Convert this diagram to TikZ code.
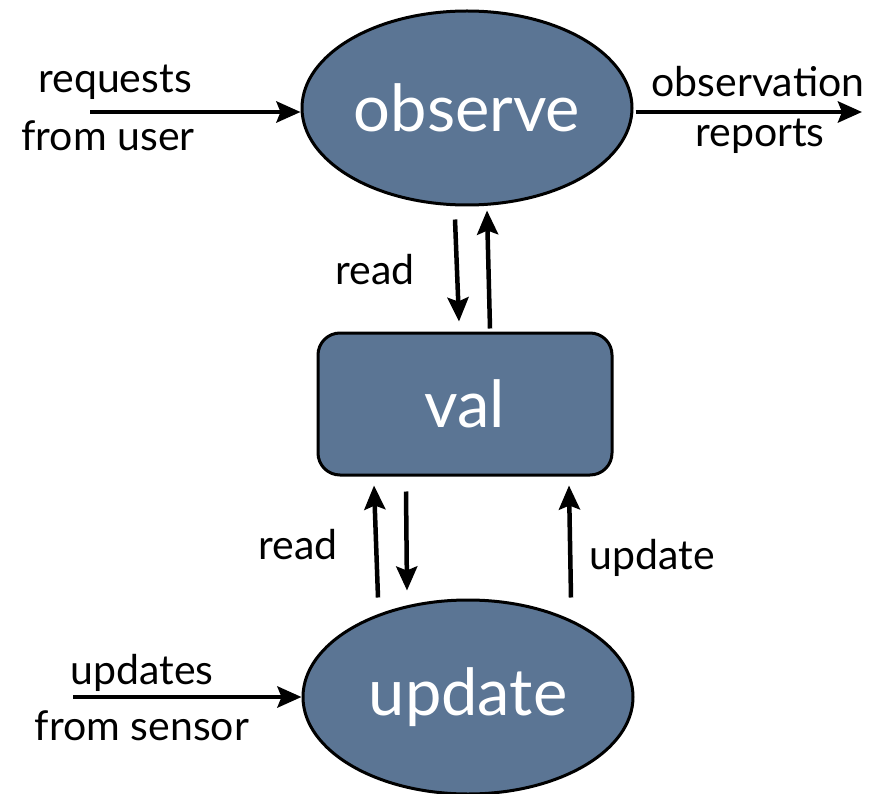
\documentclass[tikz,border=0pt]{standalone}
\usepackage{fontspec}
\setmainfont{Lato}
\usetikzlibrary{shapes.geometric,arrows.meta,calc}
\definecolor{nodeblue}{RGB}{91,117,148}
\begin{document}
\begin{tikzpicture}[x=1pt,y=-1pt,
  proc/.style={ellipse,draw=black,line width=3pt,fill=nodeblue,
    minimum width=330pt,minimum height=194pt,inner sep=0pt,
    text=white,font=\fontsize{65}{68}\selectfont},
  store/.style={rectangle,rounded corners=22pt,draw=black,line width=3pt,
    fill=nodeblue,minimum width=294pt,minimum height=142pt,inner sep=0pt,
    text=white,font=\fontsize{65}{68}\selectfont},
  flow/.style={line width=4.5pt,-{Stealth[length=24pt,width=21pt,inset=4pt]}},
  lbl/.style={font=\fontsize{41}{44}\selectfont,align=center,inner sep=0pt}]
  \useasboundingbox (0,0) rectangle (875,794);

  % processes and the shared value
  \node[proc]  (obs) at (467,108) {observe};
  \node[store] (val) at (465,404) {val};
  \node[proc]  (upd) at (468,697) {update};

  % free ends of the outside flows
  \coordinate (reqin)  at (90,112);
  \coordinate (obsout) at (862,112);
  \coordinate (updin)  at (73,697);

  % outside inputs and outputs
  \draw[flow] (reqin) -- (obs.west |- reqin);
  \draw[flow] (obs.east |- obsout) ++(2,0) -- (obsout);
  \draw[flow] (updin) -- (upd.west);

  \node[lbl] at (115,82)  {requests};
  \node[lbl] at (108,136) {from user};
  \node[lbl] at (758,82)  {observation};
  \node[lbl] at (760,136) {reports};
  \node[lbl] at (142,673) {updates};
  \node[lbl] at (142,726) {from sensor};

  % observe <-> val
  \draw[flow] ($(obs.south)+(-12,13)$) -- ($(val.north)+(-6,-10)$);
  \draw[flow] ($(val.north)+(25,-3)$) -- ($(obs.south)+(20,4)$);
  \node[lbl] at (375,270) {read};

  % update <-> val
  \draw[flow] ($(upd.north)+(-90,-1)$) -- ($(val.south)+(-91,9)$);
  \draw[flow] ($(val.south)+(-59,15)$) -- ($(upd.north)+(-61,-8)$);
  \draw[flow] ($(upd.north)+(103,-1)$) -- ($(val.south)+(104,9)$);
  \node[lbl] at (298,545) {read};
  \node[lbl] at (652,558) {update};
\end{tikzpicture}
\end{document}
